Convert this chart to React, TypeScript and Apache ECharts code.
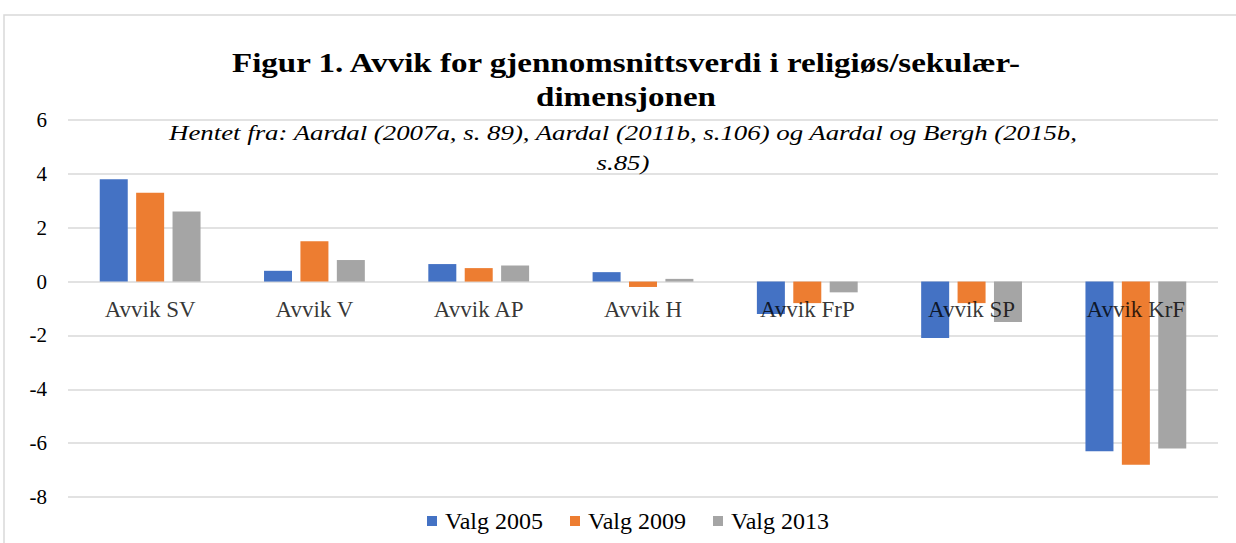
import React, { useEffect, useRef } from "react";
import * as echarts from "echarts";

const categories = ["Avvik SV", "Avvik V", "Avvik AP", "Avvik H", "Avvik FrP", "Avvik SP", "Avvik KrF"];
const valg2005 = [3.8, 0.4, 0.65, 0.35, -1.2, -2.1, -6.3];
const valg2009 = [3.3, 1.5, 0.5, -0.2, -0.8, -0.8, -6.8];
const valg2013 = [2.6, 0.8, 0.6, 0.1, -0.4, -1.5, -6.2];
const seriesNames = ["Valg 2005", "Valg 2009", "Valg 2013"];
const colors = ["#4472C4", "#ED7D31", "#A5A5A5"];

const titleLine1 = "Figur 1. Avvik for gjennomsnittsverdi i religiøs/sekulær-";
const titleLine2 = "dimensjonen";
const subLine1 = "Hentet fra: Aardal (2007a, s. 89), Aardal (2011b, s.106) og Aardal og Bergh (2015b,";
const subLine2 = "s.85)";

const FONT = "'Liberation Serif', 'Times New Roman', serif";

export default function App() {
  const ref = useRef<HTMLDivElement>(null);
  useEffect(() => {
    if (!ref.current) return;
    const chart = echarts.init(ref.current, undefined, { renderer: "svg" });
    const data = [valg2005, valg2009, valg2013];
    const titleText = (text: string, x: number, y: number, bold: boolean, size: number, sx: number) => ({
      type: "text",
      x,
      y,
      scaleX: sx,
      style: {
        text,
        fontFamily: FONT,
        fontWeight: bold ? "bold" : "normal",
        fontStyle: bold ? "normal" : "italic",
        fontSize: size,
        fill: "#000",
        align: "center",
        verticalAlign: "middle",
      },
      z: 10,
    });
    chart.setOption({
      animation: false,
      backgroundColor: "#fff",
      textStyle: { fontFamily: FONT },
      graphic: [
        {
          type: "rect",
          shape: { x: 4, y: 15, width: 1300, height: 600 },
          style: { fill: "none", stroke: "#d9d9d9", lineWidth: 1.5 },
          silent: true,
          z: -10,
        },
        titleText(titleLine1, 626, 63, true, 28, 1.18),
        titleText(titleLine2, 626, 97, true, 28, 1.18),
        titleText(subLine1, 623, 132, false, 22, 1.22),
        titleText(subLine2, 623, 162, false, 22, 1.22),
      ],
      legend: {
        left: 422,
        top: 504,
        itemWidth: 10,
        itemHeight: 10,
        itemGap: 27,
        icon: "rect",
        data: seriesNames,
        textStyle: { fontFamily: FONT, fontSize: 24, color: "#000", padding: [0, 0, 0, 3] },
      },
      grid: { left: 68, right: 18, top: 120, bottom: 46, containLabel: false },
      xAxis: {
        type: "category",
        data: categories,
        axisLine: { show: false },
        axisTick: { show: false },
        axisLabel: { show: false },
      },
      yAxis: {
        type: "value",
        min: -8,
        max: 6,
        interval: 2,
        axisLine: { show: false },
        axisTick: { show: false },
        axisLabel: { fontFamily: FONT, fontSize: 21, color: "#000", margin: 21 },
        splitLine: { lineStyle: { color: "#d9d9d9", width: 1.5 } },
      },
      series: [
        ...seriesNames.map((name, i) => ({
          name,
          type: "bar",
          data: data[i],
          barWidth: 28,
          barGap: "30%",
          itemStyle: { color: colors[i] },
          z: 2,
        })),
        {
          name: "kategorier",
          type: "scatter",
          symbolSize: 0,
          silent: true,
          data: categories.map((c) => ({ name: c, value: [c, 0] })),
          label: {
            show: true,
            position: "bottom",
            distance: 16,
            formatter: "{b}",
            fontFamily: FONT,
            fontSize: 23,
            color: "#000",
          },
          z: 5,
        },
      ],
    });
    return () => chart.dispose();
  }, []);
  return (
    <div
      ref={ref}
      style={{ position: "fixed", left: 0, top: 0, width: 1236, height: 543 }}
    />
  );
}
